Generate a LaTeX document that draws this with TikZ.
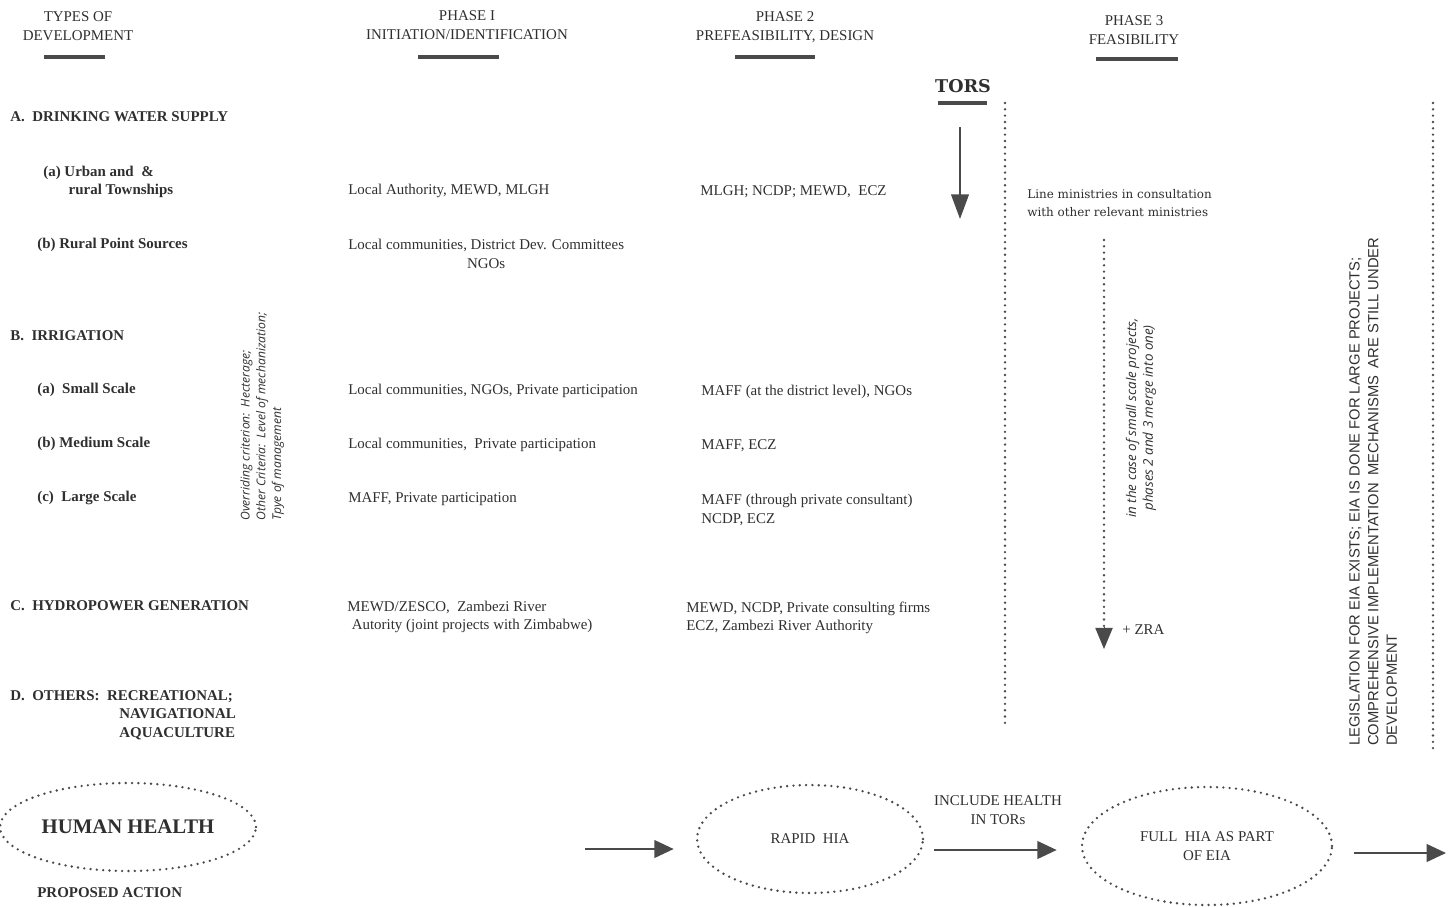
\documentclass[tikz,border=0pt]{standalone}
\usepackage{fontspec}
\setmainfont{Liberation Serif}
\newfontfamily\torsfont{DejaVu Serif}
\newfontfamily\notefont{Open Sans}
\newfontfamily\capsfont{Liberation Sans}
\usepackage{xcolor}
\definecolor{ink}{HTML}{2F2F2F}
\definecolor{ink2}{HTML}{4A4A4A}
\usetikzlibrary{positioning,arrows.meta,shapes.geometric}

\begin{document}
\begin{tikzpicture}[x=0.02cm,y=-0.02cm,
  txt/.style={anchor=west,inner sep=0pt,text=ink,font=\fontsize{8.5}{10.5}\selectfont,align=left},
  lbl/.style={txt,font=\fontsize{8.5}{10.5}\selectfont\bfseries},
  head/.style={inner sep=0pt,text=ink,font=\fontsize{8.5}{10.5}\selectfont,align=center},
  note/.style={inner sep=0pt,text=ink,rotate=90,font=\notefont\itshape\fontsize{6.9}{9}\selectfont},
  uline/.style={line width=1.8pt,color=ink2},
  dots/.style={line width=1.5pt,color=ink2,line cap=round,dash pattern=on 0pt off 3.6pt},
  oval/.style={ellipse,draw=ink2,line width=1.5pt,line cap=round,dash pattern=on 0pt off 3.6pt,
    text=ink,align=center,inner sep=0pt,font=\fontsize{8.5}{10.5}\selectfont},
  arr/.style={-{Triangle[length=11pt,width=10pt]},line width=1.3pt,color=ink2}]
\useasboundingbox (0,0) rectangle (1450,906);

% column heads
\node[head] (typesHead) at (78,26) {TYPES OF\\DEVELOPMENT};
\node[head] (phaseOne) at (467,25) {PHASE I\\INITIATION/IDENTIFICATION};
\node[head] (phaseTwo) at (785,27) {PHASE 2\\PREFEASIBILITY, DESIGN};
\node[head] (phaseThree) at (1134,30) {PHASE 3\\FEASIBILITY};
\draw[uline] (44,57) -- (105,57);
\draw[uline] (418,57) -- (499,57);
\draw[uline] (735,57) -- (815,57);
\draw[uline] (1096,59) -- (1178,59);

\node[inner sep=0pt,text=ink,font=\torsfont\bfseries\fontsize{10}{12}\selectfont] (tors) at (963,86) {TORS};
\draw[uline] (938,103) -- (987,103);
\coordinate (torsTop) at (960,127);
\coordinate (torsEnd) at (960,219);
\draw[arr,-{Triangle[length=14pt,width=10pt]}] (torsTop) -- (torsEnd);

% types of development
\node[lbl] (drink) at (10,117) {A.\enspace DRINKING WATER SUPPLY};
\node[lbl] (urban) at (43,182) {(a) Urban and\enspace\&\\\hspace{1.7em}rural Townships};
\node[lbl] (rural) at (37,245) {(b) Rural Point Sources};
\node[lbl] (irrig) at (10,336) {B.\enspace IRRIGATION};
\node[lbl] (small) at (37,390) {(a)\enspace Small Scale};
\node[lbl] (medium) at (37,444) {(b) Medium Scale};
\node[lbl] (large) at (37,498) {(c)\enspace Large Scale};
\node[lbl] (hydro) at (10,606) {C.\enspace HYDROPOWER GENERATION};
\node[lbl,anchor=north west] (others) at (10,690) {D.\enspace OTHERS:\enspace RECREATIONAL;\\\hspace{7.3em}NAVIGATIONAL\\\hspace{7.3em}AQUACULTURE};
\node[note,anchor=north west,align=left] (criteria) at (240,521)
  {Overriding criterion:\enspace Hecterage;\\Other Criteria:\enspace Level of mechanization;\\Tpye of management};

% phase I
\node[txt] (p1urban) at (348,191) {Local Authority, MEWD, MLGH};
\node[txt,align=center,anchor=north west] (p1rural) at (348,239) {Local communities, District Dev. Committees\\NGOs};
\node[txt] (p1small) at (348,391) {Local communities, NGOs, Private participation};
\node[txt] (p1medium) at (348,445) {Local communities,\enspace Private participation};
\node[txt] (p1large) at (348,499) {MAFF, Private participation};
\node[txt] (p1hydro) at (347,617) {MEWD/ZESCO,\enspace Zambezi River\\\hspace{0.3em}Autority (joint projects with Zimbabwe)};

% phase 2
\node[txt] (p2urban) at (700,192) {MLGH; NCDP; MEWD,\enspace ECZ};
\node[txt] (p2small) at (701,392) {MAFF (at the district level), NGOs};
\node[txt] (p2medium) at (701,446) {MAFF, ECZ};
\node[txt] (p2large) at (701,510) {MAFF (through private consultant)\\NCDP, ECZ};
\node[txt] (p2hydro) at (686,618) {MEWD, NCDP, Private consulting firms\\ECZ, Zambezi River Authority};

% phase 3
\node[txt,font=\torsfont\fontsize{6.8}{10.5}\selectfont] (p3line) at (1027,203) {Line ministries in consultation\\with other relevant ministries};
\coordinate (mergeTop) at (1104,240);
\coordinate (mergeEnd) at (1104,649);
\draw[dots] (mergeTop) -- ([yshift=0.3cm]mergeEnd);
\draw[-{Triangle[length=12pt,width=10pt]},color=ink2,line width=0pt] ([yshift=0.3cm]mergeEnd) -- (mergeEnd);
\node[txt] (zra) at (1122,630) {+ ZRA};
\node[note,align=center,font=\notefont\itshape\fontsize{7.6}{9.5}\selectfont] (merge) at (1141,418)
  {in the case of small scale projects,\\phases 2 and 3 merge into one)};

% separators
\coordinate (sepTop) at (1005,103);
\coordinate (sepEnd) at (1005,726);
\draw[dots] (sepTop) -- (sepEnd);
\coordinate (edgeTop) at (1433,103);
\coordinate (edgeEnd) at (1433,750);
\draw[dots] (edgeTop) -- (edgeEnd);
\node[note,anchor=north west,align=left,font=\capsfont\fontsize{8.4}{10.6}\selectfont] (legis) at (1349,746)
  {LEGISLATION FOR EIA EXISTS; EIA IS DONE FOR LARGE PROJECTS;\\COMPREHENSIVE IMPLEMENTATION\enspace MECHANISMS\enspace ARE STILL UNDER\\DEVELOPMENT};

% health track
\node[oval,minimum width=5.12cm,minimum height=1.76cm,font=\bfseries\fontsize{11.8}{13}\selectfont] (health) at (128,827) {HUMAN HEALTH};
\node[lbl] (proposed) at (37,893) {PROPOSED ACTION};
\node[oval,minimum width=4.52cm,minimum height=2.16cm] (rapid) at (810,839) {RAPID\enspace HIA};
\node[oval,minimum width=5.0cm,minimum height=2.36cm] (full) at (1207,846) {FULL\enspace HIA AS PART\\OF EIA};
\node[head] (include) at (998,810) {INCLUDE HEALTH\\IN TORs};
\coordinate (inStart) at (585,849);
\coordinate (midLine) at (0,850);
\coordinate (outEnd) at (1446,853);
\draw[arr,shorten >=0.44cm] (inStart) -- (inStart -| rapid.west);
\draw[arr,shorten <=0.2cm,shorten >=0.48cm] (rapid.east |- midLine) -- (full.west |- midLine);
\draw[arr,shorten <=0.42cm] (full.east |- outEnd) -- (outEnd);
\end{tikzpicture}
\end{document}
